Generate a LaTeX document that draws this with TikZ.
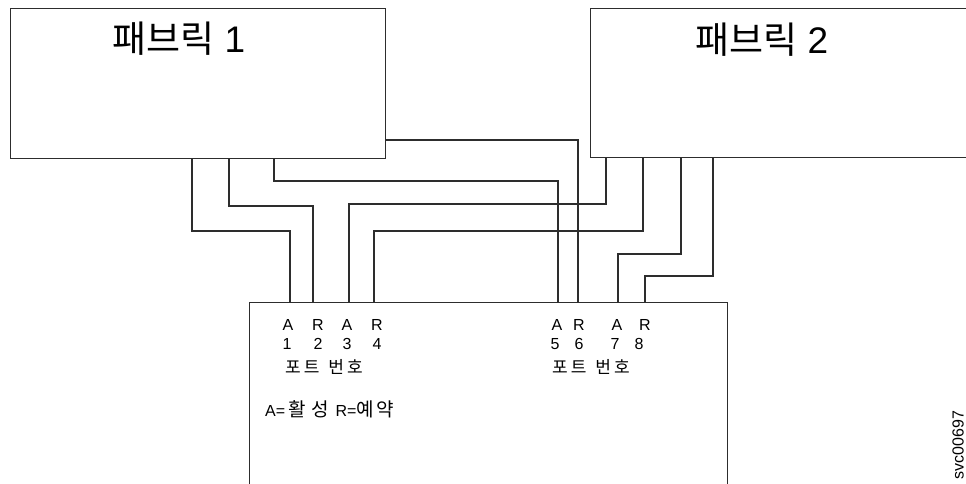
\documentclass[tikz,border=0pt]{standalone}
\usepackage{fontspec}
\setmainfont{Liberation Sans}
\newfontfamily\kr{Noto Sans CJK KR}
\usetikzlibrary{positioning}
\definecolor{linegray}{RGB}{45,45,45}
\newcommand\portword{{\kr\fontsize{17}{18}\selectfont 포\hspace{3pt}트\hspace{9pt}번\hspace{3pt}호}}
\newcommand\keykr{\kr\fontsize{19}{20}\selectfont}

\begin{document}
\begin{tikzpicture}[x=1pt,y=-1pt,
	box/.style={draw=linegray,line width=1pt,rectangle,inner sep=0pt,anchor=north west},
	link/.style={draw=linegray,line width=1.1pt},
	title/.style={inner sep=0pt,anchor=west,font=\fontsize{37}{40}\selectfont},
	lbl/.style={inner sep=0pt,font=\fontsize{16}{18}\selectfont}]
	\useasboundingbox (0,0) rectangle (966,483);
	% the two fabrics and the storage box
	\node[box,minimum width=375,minimum height=150] (fab1) at (10,8) {};
	\node[box,minimum width=390,minimum height=149] (fab2) at (590,8) {};
	\node[box,minimum width=478,minimum height=220] (stor) at (249,302) {};
	\node[title] (t1) at (112,39) {{\kr 패브릭} 1};
	\node[title] (t2) at (695,40) {{\kr 패브릭} 2};
	% exits on the fabrics
	\coordinate (f1a) at (192,158);
	\coordinate (f1b) at (229,158);
	\coordinate (f1c) at (274,158);
	\coordinate (f1r) at (385,140);
	\coordinate (f2a) at (606,157);
	\coordinate (f2b) at (643,157);
	\coordinate (f2c) at (681,157);
	\coordinate (f2d) at (713,157);
	% ports on the storage box
	\coordinate (p1) at (290,302);
	\coordinate (p2) at (313,302);
	\coordinate (p3) at (349,302);
	\coordinate (p4) at (374,302);
	\coordinate (p5) at (558,302);
	\coordinate (p6) at (578,302);
	\coordinate (p7) at (618,302);
	\coordinate (p8) at (645,302);
	\foreach \from/\drop/\to in {f1a/73/p1,f1b/48/p2,f1c/23/p5,f2a/47/p3,f2b/74/p4,f2c/97/p7,f2d/119/p8}
		\draw[link] (\from) -- ++(0,\drop) -| (\to);
	\draw[link] (f1r) -| (p6);
	% port labels
	\foreach \x/\t [count=\n] in {288/A,318/R,347/A,377/R,557/A,579/R,617/A,645/R}
		\node[lbl] (m\n) at (\x,325) {\t};
	\foreach \x [count=\n] in {287,318,347,377,555,579,615,639}
		\node[lbl] (n\n) at (\x,344) {\n};
	\node[lbl,anchor=west] (pl) at (285,367) {\portword};
	\node[lbl,anchor=west] (pr) at (552,367) {\portword};
	\node[lbl,anchor=west] (key) at (265,409) {A=\hspace{3pt}{\keykr 활\hspace{6pt}성}\hspace{2pt} R={\keykr 예\hspace{3pt}약}};
	\node[lbl,rotate=90] (svc) at (958,445) {svc00697};
\end{tikzpicture}
\end{document}
